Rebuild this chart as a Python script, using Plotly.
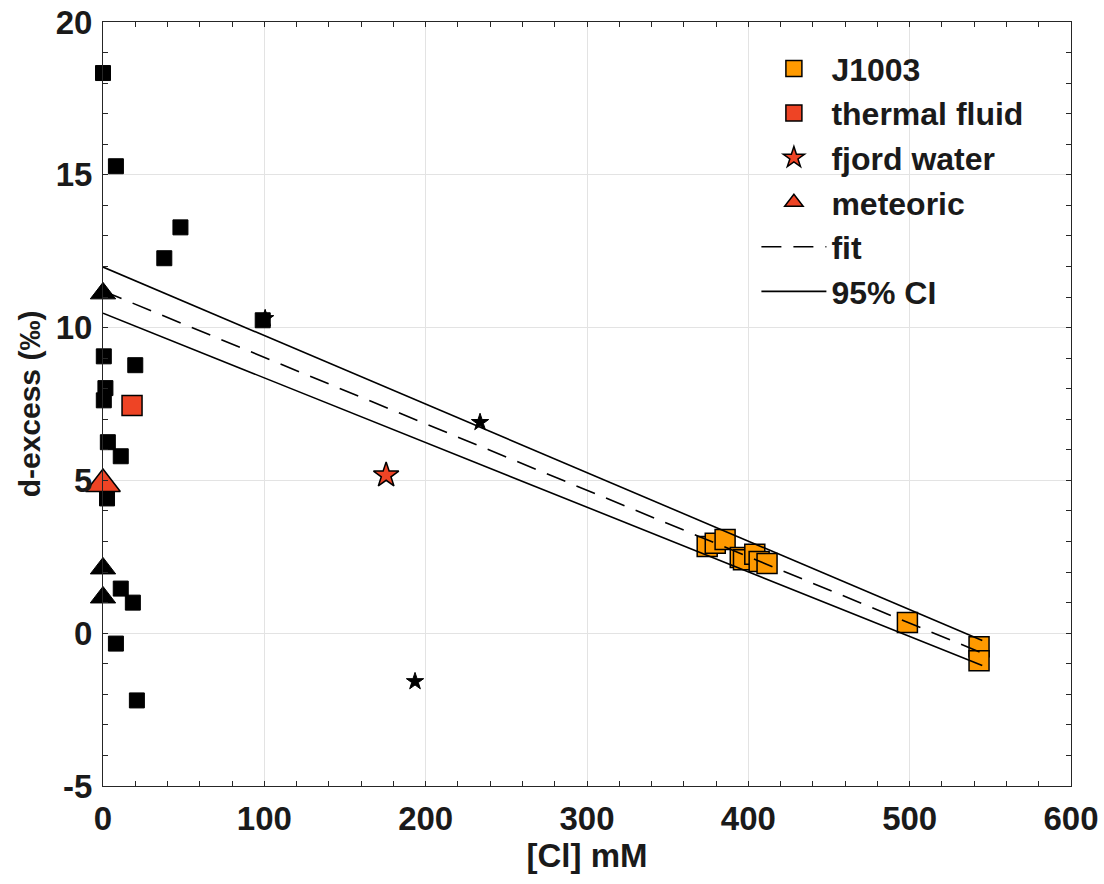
import plotly.graph_objects as go

# ---- data ----
black_sq_x = [0, 8, 48, 38, 99, 0.5, 20, 1.5, 0.5, 3, 11, 2.5, 11, 18.5, 8, 21]
black_sq_y = [18.33, 15.28, 13.28, 12.27, 10.24, 9.06, 8.77, 8.02, 7.62, 6.25, 5.79, 4.41, 1.46, 1.0, -0.34, -2.2]
black_tri_x = [0, 0, 0]
black_tri_y = [11.12, 2.12, 1.17]
black_star_x = [100.5, 233.7, 193.4]
black_star_y = [10.3, 6.9, -1.58]

j1003_x = [374.5, 379.5, 385.6, 395, 397, 404, 406.7, 411.6, 498.6, 543, 543]
j1003_y = [2.84, 2.94, 3.07, 2.48, 2.40, 2.58, 2.35, 2.28, 0.35, -0.44, -0.90]
thermal_x = [18]
thermal_y = [7.45]
fjord_x = [175.5]
fjord_y = [5.17]
meteoric_x = [0]
meteoric_y = [4.88]

fit_x = [0, 545]
fit_y = [11.2, -0.65]
ci_upper_y = [11.98, -0.24]
ci_lower_y = [10.47, -1.06]

x_ticks = [0, 100, 200, 300, 400, 500, 600]
y_ticks = [-5, 0, 5, 10, 15, 20]
y_ticktext = ["-5", "0", "5", "10", "15", "20"]

ORANGE = "#FF9A00"
RED = "#EE4425"
FONT = "Liberation Sans, Arial, Helvetica, sans-serif"

fig = go.Figure()

fig.add_trace(go.Scatter(x=black_sq_x, y=black_sq_y, mode="markers", showlegend=False, cliponaxis=False,
                         marker=dict(symbol="square", size=15, color="black",
                                     line=dict(color="black", width=1))))
fig.add_trace(go.Scatter(x=black_star_x, y=black_star_y, mode="markers", showlegend=False, cliponaxis=False,
                         marker=dict(symbol="star", size=13, color="black",
                                     line=dict(color="black", width=1))))
fig.add_trace(go.Scatter(x=black_tri_x, y=black_tri_y, mode="markers", showlegend=False, cliponaxis=False,
                         marker=dict(symbol="triangle-up", size=22, color="black",
                                     line=dict(color="black", width=1))))

fig.add_trace(go.Scatter(x=j1003_x, y=j1003_y, mode="markers", name="J1003", cliponaxis=False,
                         marker=dict(symbol="square", size=20, color=ORANGE,
                                     line=dict(color="black", width=1.5))))
fig.add_trace(go.Scatter(x=thermal_x, y=thermal_y, mode="markers", name="thermal fluid", cliponaxis=False,
                         marker=dict(symbol="square", size=20, color=RED,
                                     line=dict(color="black", width=1.5))))
fig.add_trace(go.Scatter(x=fjord_x, y=fjord_y, mode="markers", name="fjord water", cliponaxis=False,
                         marker=dict(symbol="star", size=19, color=RED,
                                     line=dict(color="black", width=1.5))))
fig.add_trace(go.Scatter(x=meteoric_x, y=meteoric_y, mode="markers", name="meteoric", cliponaxis=False,
                         marker=dict(symbol="triangle-up", size=30, color=RED,
                                     line=dict(color="black", width=1.5))))

fig.add_trace(go.Scatter(x=fit_x, y=fit_y, mode="lines", name="fit",
                         line=dict(color="black", width=1.6, dash="20px,12px")))
ci_x = fit_x + [None] + fit_x
ci_y = ci_upper_y + [None] + ci_lower_y
fig.add_trace(go.Scatter(x=ci_x, y=ci_y, mode="lines", name="95% CI",
                         line=dict(color="black", width=1.6)))

axis_common = dict(
    showline=True, linecolor="#262626", linewidth=1, mirror="allticks",
    ticks="inside", ticklen=5, tickcolor="#262626", tickwidth=1,
    showgrid=True, gridcolor="#E3E3E3", gridwidth=1, zeroline=False,
    automargin=False, ticklabeloverflow="allow",
    tickfont=dict(family=FONT, size=33, color="#1a1a1a", weight="bold"),
)

fig.update_xaxes(range=[0, 600], tickvals=x_ticks,
                 minor=dict(ticks="inside", dtick=20, ticklen=5, tickcolor="#262626", showgrid=False),
                 title=dict(text="[Cl] mM", font=dict(family=FONT, size=33, color="#1a1a1a", weight="bold"),
                            standoff=8),
                 ticklabelstandoff=3,
                 **axis_common)
fig.update_yaxes(range=[-5, 20], tickvals=y_ticks, ticktext=y_ticktext,
                 minor=dict(ticks="inside", dtick=1, ticklen=5, tickcolor="#262626", showgrid=False),
                 title=dict(text="d-excess (‰)", font=dict(family=FONT, size=30, color="#1a1a1a", weight="bold"),
                            standoff=6),
                 ticklabelstandoff=3,
                 **axis_common)

fig.update_layout(
    width=1104, height=884,
    margin=dict(l=103, r=33, t=22, b=98),
    paper_bgcolor="white", plot_bgcolor="white",
    legend=dict(x=0.675, y=0.975, xanchor="left", yanchor="top",
                bgcolor="rgba(0,0,0,0)", borderwidth=0,
                itemwidth=65, tracegroupgap=0,
                font=dict(family=FONT, size=32, color="#1a1a1a", weight="bold")),
)

fig.write_html("out.html", config={"displayModeBar": False},
               post_script="document.body.style.margin='0px';")
